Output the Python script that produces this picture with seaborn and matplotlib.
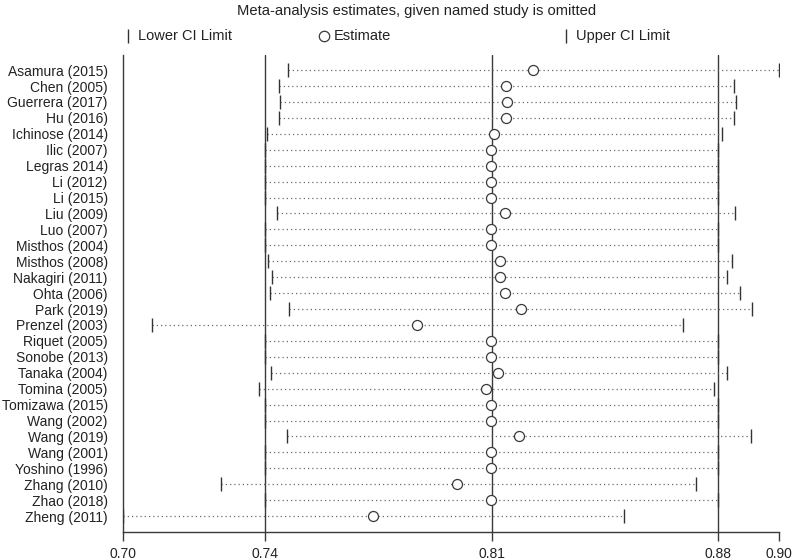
import matplotlib
matplotlib.use("Agg")
import matplotlib.pyplot as plt
from matplotlib.lines import Line2D
import pandas as pd
import seaborn as sns

studies = [
    "Asamura (2015)", "Chen (2005)", "Guerrera (2017)", "Hu (2016)",
    "Ichinose (2014)", "Ilic (2007)", "Legras 2014)", "Li (2012)", "Li (2015)",
    "Liu (2009)", "Luo (2007)", "Misthos (2004)", "Misthos (2008)",
    "Nakagiri (2011)", "Ohta (2006)", "Park (2019)", "Prenzel (2003)",
    "Riquet (2005)", "Sonobe (2013)", "Tanaka (2004)", "Tomina (2005)",
    "Tomizawa (2015)", "Wang (2002)", "Wang (2019)", "Wang (2001)",
    "Yoshino (1996)", "Zhang (2010)", "Zhao (2018)", "Zheng (2011)",
]
lower = [
    0.7504, 0.7476, 0.7478, 0.7476, 0.7440, 0.7433, 0.7433, 0.7433, 0.7433,
    0.7469, 0.7433, 0.7433, 0.7443, 0.7455, 0.7447, 0.7506, 0.7087,
    0.7433, 0.7433, 0.7451, 0.7413, 0.7433, 0.7433, 0.7501, 0.7433,
    0.7433, 0.7299, 0.7433, 0.7000,
]
estimate = [
    0.8248, 0.8166, 0.8171, 0.8166, 0.8131, 0.8123, 0.8123, 0.8123, 0.8123,
    0.8165, 0.8123, 0.8123, 0.8149, 0.8149, 0.8163, 0.8212, 0.7896,
    0.8123, 0.8123, 0.8143, 0.8105, 0.8123, 0.8123, 0.8206, 0.8123,
    0.8123, 0.8019, 0.8123, 0.7762,
]
upper = [
    0.9000, 0.8861, 0.8867, 0.8863, 0.8826, 0.8812, 0.8812, 0.8812, 0.8812,
    0.8866, 0.8812, 0.8812, 0.8857, 0.8841, 0.8880, 0.8918, 0.8706,
    0.8812, 0.8812, 0.8841, 0.8800, 0.8812, 0.8812, 0.8913, 0.8812,
    0.8812, 0.8746, 0.8812, 0.8526,
]
overall_lower = 0.7433
overall_est = 0.8125
overall_upper = 0.8814
x_min, x_max = 0.70, 0.90

df = pd.DataFrame({"Study": studies, "Lower": lower,
                   "Estimate": estimate, "Upper": upper})
df["pos"] = range(len(df))

sns.set_theme(style="white")
plt.rcParams["font.family"] = ["Liberation Sans", "DejaVu Sans"]

fig = plt.figure(figsize=(7.96, 5.6), dpi=100)
ax = fig.add_axes([0.1545, 0.05, 0.979 - 0.1545, 0.9018 - 0.05])

line_col = "#3a3a3a"
dot_col = "#6a6a6a"

for v in [overall_lower, overall_est, overall_upper]:
    ax.axvline(v, color=line_col, lw=1.0, zorder=1)

# dotted span from lower to upper limit for each omitted study
ax.hlines(df["pos"], df["Lower"], df["Upper"], colors=dot_col,
          linestyles=(0, (1, 2.4)), lw=0.9, zorder=2)

sns.scatterplot(data=df, x="Lower", y="pos", marker="|", s=90,
                color="#333333", linewidth=1.0, ax=ax, zorder=3, legend=False)
sns.scatterplot(data=df, x="Upper", y="pos", marker="|", s=90,
                color="#333333", linewidth=1.0, ax=ax, zorder=3, legend=False)
sns.scatterplot(data=df, x="Estimate", y="pos", marker="o", s=52,
                facecolor="white", edgecolor=line_col, linewidth=0.9,
                ax=ax, zorder=4, legend=False)

ax.set_xlim(x_min, x_max)
ax.set_ylim(len(df) - 1 + 1.0, -0.95)
ax.set_yticks(df["pos"])
ax.set_yticklabels(df["Study"])
xt = [x_min, overall_lower, overall_est, overall_upper, x_max]
ax.set_xticks(xt)
ax.set_xticklabels([f"{v:.2f}" for v in xt])
ax.set_xlabel("")
ax.set_ylabel("")

for side in ["top", "right"]:
    ax.spines[side].set_visible(False)
for side in ["left", "bottom"]:
    ax.spines[side].set_color(line_col)
    ax.spines[side].set_linewidth(1.0)

ax.tick_params(axis="x", bottom=True, length=6.5, width=1.0, color=line_col,
               labelsize=10, labelcolor="#222222", pad=4.5)
ax.tick_params(axis="y", left=False, length=0, labelsize=10,
               labelcolor="#222222", pad=11)

fig.text(0.523, 0.993, "Meta-analysis estimates, given named study is omitted",
         ha="center", va="top", fontsize=10.6, color="#222222")

leg_y = 1 - 36 / 560
entries = [(128, "|", "Lower CI Limit"), (324, "o", "Estimate"),
           (566, "|", "Upper CI Limit")]
for px, mk, label in entries:
    fx = px / 796
    if mk == "o":
        fig.add_artist(Line2D([fx], [leg_y], marker="o", markersize=7.5,
                              markerfacecolor="white", markeredgecolor=line_col,
                              markeredgewidth=0.9, transform=fig.transFigure))
    else:
        fig.add_artist(Line2D([fx], [leg_y], marker="|", markersize=10,
                              markeredgecolor="#333333", markeredgewidth=1.0,
                              transform=fig.transFigure))
    fig.text(fx + 10 / 796, leg_y, label, ha="left", va="center",
             fontsize=10.5, color="#222222")

fig.savefig("out.png", dpi=100)
